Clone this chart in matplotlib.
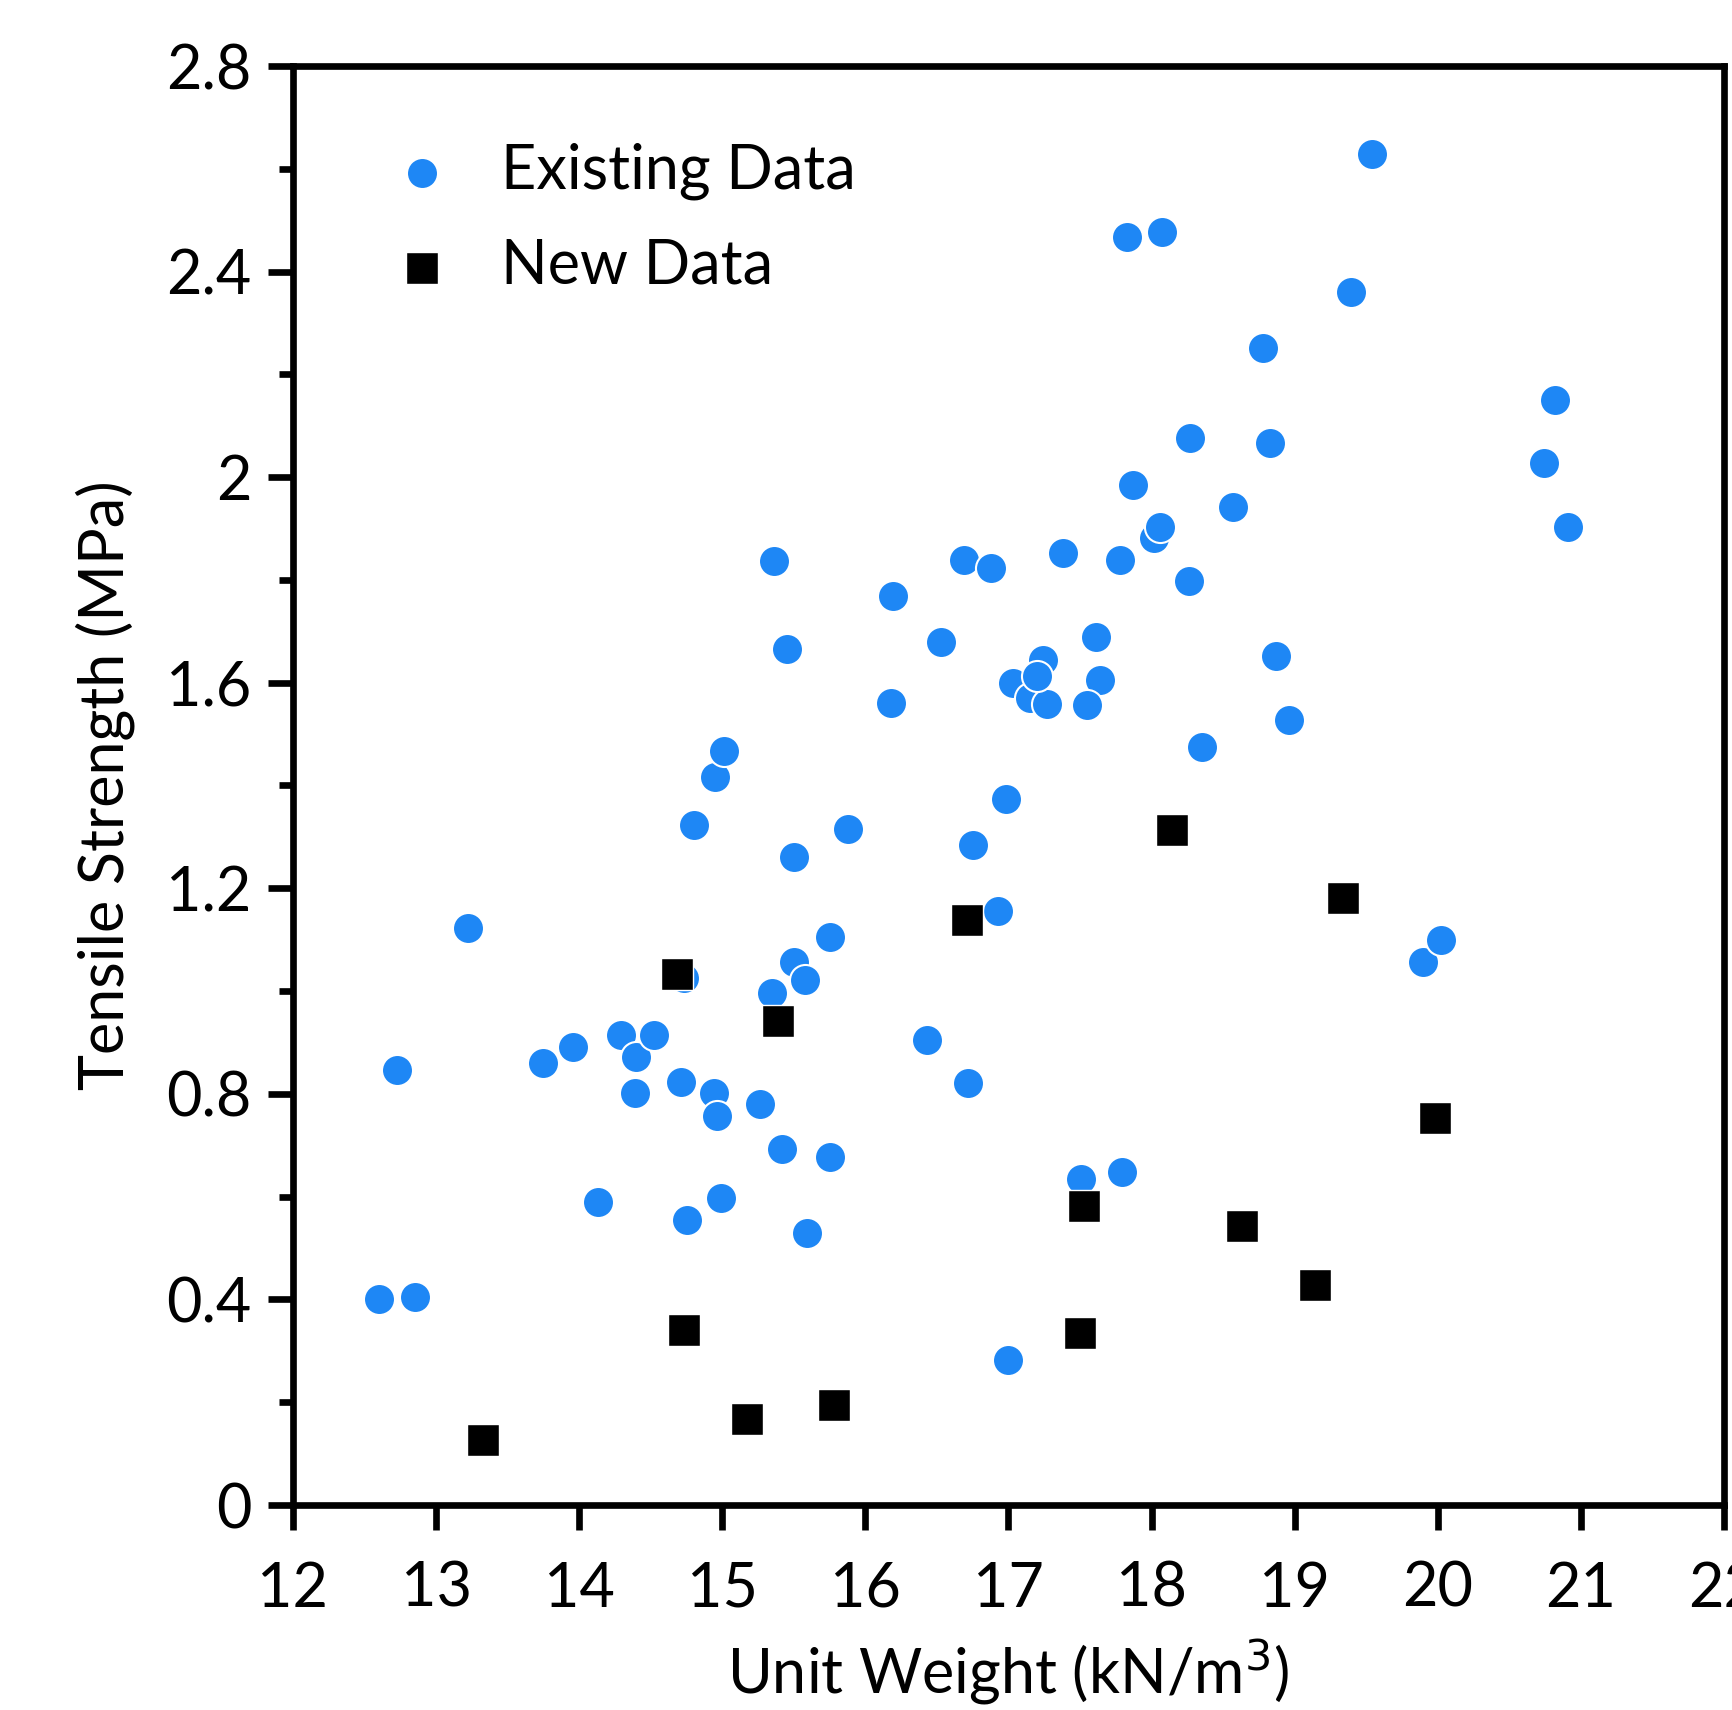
import matplotlib
matplotlib.use("Agg")
import matplotlib.pyplot as plt
from matplotlib.ticker import MultipleLocator

plt.rcParams['font.family'] = ['Lato', 'DejaVu Sans']

# Existing data (unit weight kN/m3, tensile strength MPa)
existing_x = [12.60, 12.85, 12.73, 13.22, 13.75, 13.96, 14.13, 14.29, 14.40, 14.52,
              14.39, 14.71, 14.73, 14.75, 14.80, 14.95, 15.01, 14.94, 14.96, 14.99,
              15.26, 15.35, 15.36, 15.42, 15.45, 15.50, 15.50, 15.58, 15.59, 15.75,
              15.75, 15.88, 16.18, 16.19, 16.43, 16.53, 16.69, 16.72, 16.75, 16.88,
              16.93, 16.98, 17.03, 17.00, 17.24, 17.15, 17.27, 17.20, 17.38, 17.61,
              17.64, 17.55, 17.51, 17.79, 17.78, 17.83, 18.07, 17.87, 18.02, 18.06,
              18.26, 18.27, 18.35, 18.57, 18.78, 18.83, 18.87, 18.96, 19.39, 19.54,
              19.90, 20.02, 20.74, 20.82, 20.91]
existing_y = [0.400, 0.404, 0.847, 1.123, 0.860, 0.892, 0.589, 0.914, 0.871, 0.914,
              0.802, 0.824, 1.026, 0.555, 1.323, 1.417, 1.467, 0.802, 0.757, 0.598,
              0.781, 0.996, 1.837, 0.692, 1.665, 1.260, 1.056, 1.022, 0.529, 0.677,
              1.105, 1.316, 1.561, 1.768, 0.905, 1.680, 1.839, 0.822, 1.284, 1.824,
              1.155, 1.374, 1.600, 0.282, 1.645, 1.570, 1.559, 1.613, 1.852, 1.688,
              1.606, 1.557, 0.634, 0.647, 1.839, 2.467, 2.477, 1.985, 1.882, 1.903,
              1.798, 2.077, 1.475, 1.942, 2.252, 2.067, 1.652, 1.527, 2.361, 2.628,
              1.056, 1.099, 2.028, 2.151, 1.903]

# New data
new_x = [13.33, 14.73, 15.17, 15.78, 14.68, 15.39, 16.71, 18.14, 19.34, 17.53,
         17.50, 18.63, 19.14, 19.98]
new_y = [0.127, 0.340, 0.168, 0.194, 1.034, 0.942, 1.138, 1.314, 1.181, 0.581,
         0.335, 0.542, 0.428, 0.753]

yticks = [0, 0.4, 0.8, 1.2, 1.6, 2.0, 2.4, 2.8]
ytick_labels = ['0', '0.4', '0.8', '1.2', '1.6', '2', '2.4', '2.8']

fig = plt.figure(figsize=(17.33, 17.10), dpi=100)
ax = fig.add_axes([293 / 1733, 1 - 1505 / 1710, 1431 / 1733, 1439 / 1710])

ax.scatter(existing_x, existing_y, s=500, marker='o', color='#1E87F5',
           edgecolors='white', linewidths=1.5, label='Existing Data', zorder=3)
ax.scatter(new_x, new_y, s=560, marker='s', color='black',
           edgecolors='white', linewidths=1.0, label='New Data', zorder=4)

ax.set_xlim(12, 22)
ax.set_ylim(0, 2.8)
ax.xaxis.set_major_locator(MultipleLocator(1))
ax.set_yticks(yticks)
ax.set_yticklabels(ytick_labels)
ax.yaxis.set_minor_locator(MultipleLocator(0.2))

for sp in ax.spines.values():
    sp.set_linewidth(4.8)
ax.tick_params(which='major', length=18, width=4.8, labelsize=44)
ax.tick_params(axis='x', which='major', pad=22)
ax.tick_params(axis='y', which='major', pad=12)
ax.tick_params(which='minor', length=10, width=4.8)
ax.tick_params(axis='x', which='minor', bottom=False)

ax.set_xlabel('Unit Weight (kN/m$^3$)', fontsize=44, labelpad=14)
ax.set_ylabel('Tensile Strength (MPa)', fontsize=44, labelpad=22)

ax.legend(loc='upper left', bbox_to_anchor=(0.009, 0.985), frameon=False,
          fontsize=44, handletextpad=0.3, labelspacing=0.62, markerscale=1.0)

fig.savefig('out.png', dpi=100)
